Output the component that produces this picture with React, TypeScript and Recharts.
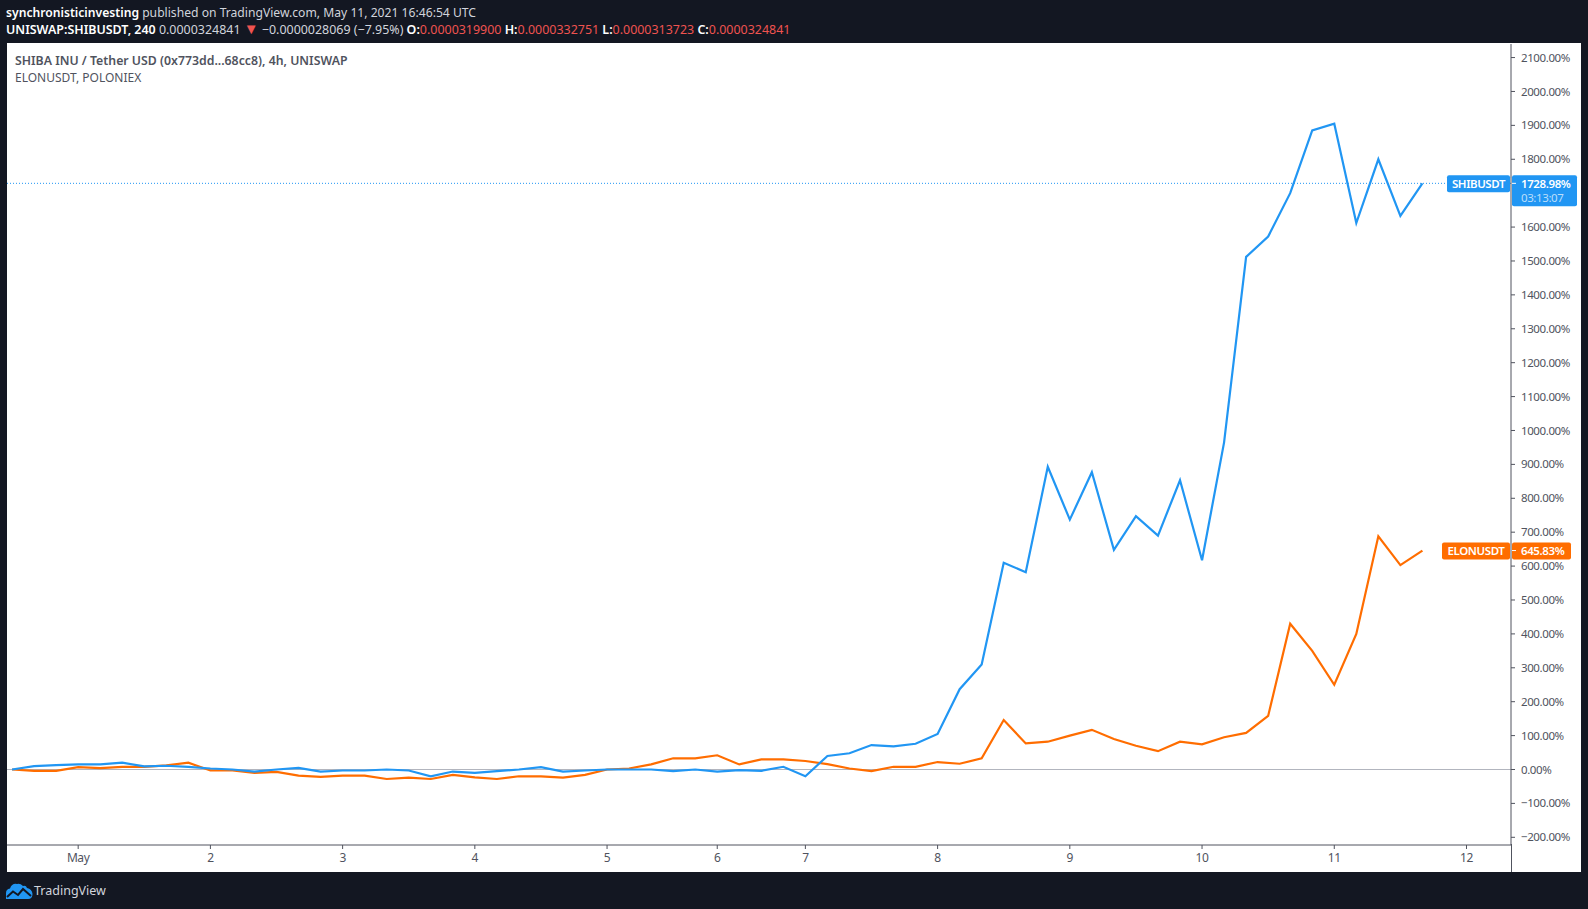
import { LineChart, Line, XAxis, YAxis, ReferenceLine } from "recharts";

const shibValues = [
  0, 10, 13, 15, 15, 20, 9, 11, 8, 3, 0, -6, 0, 5, -6, -3, -3, 0, -3, -20, -6, -10, -5, 0, 7, -6, -3, 0, 0, 0, -5, 0,
  -6, -2, -4, 8, -20, 40, 48, 72, 68, 76, 105, 237, 310, 610, 582, 893, 737, 877, 648, 747, 690, 853, 617, 965, 1512,
  1572, 1700, 1885, 1905, 1612, 1800, 1633, 1728.98,
];
const elonValues = [
  0, -4, -4, 7, 4, 8, 8, 12, 20, -3, -3, -10, -7, -18, -22, -18, -18, -28, -24, -28, -16, -23, -28, -20, -20, -24, -16,
  0, 3, 15, 33, 33, 42, 15, 30, 30, 25, 16, 3, -5, 8, 8, 22, 17, 33, 146, 77, 82, 100, 117, 90, 70, 54, 82, 74, 95, 108,
  158, 430, 350, 250, 400, 688, 603, 645.83,
];
const dayTickIndexes = [3, 9, 15, 21, 27, 32, 36, 42, 48, 54, 60, 66];
const dayTickLabels = ["May", "2", "3", "4", "5", "6", "7", "8", "9", "10", "11", "12"];
// 1700 sits under the SHIBUSDT price tag in the original, so it has no label
const percentTicks = [
  -200, -100, 0, 100, 200, 300, 400, 500, 600, 700, 800, 900, 1000, 1100, 1200, 1300, 1400, 1500, 1600, 1800, 1900,
  2000, 2100,
];

const data = shibValues.map((shib, i) => ({ i, shib, elon: elonValues[i] }));

const BLUE = "#2196f3";
const ORANGE = "#ff6d00";
const DARK = "#131722";
const AXIS = "#50535e";
const RED = "#ef5350";
const FONT = "'Noto Sans', sans-serif";

const formatPercent = (v: number) => `${v < 0 ? "\u2212" : ""}${Math.abs(v).toFixed(2)}%`;

const PriceTag = ({ viewBox, name, value, color, countdown, nameW, valueW }: any) => {
  const y = viewBox.y;
  const right = viewBox.x + viewBox.width;
  return (
    <g fontFamily={FONT} fontSize={11.5} fontWeight={600} letterSpacing={-0.4}>
      <rect x={right - nameW - 1} y={y - 8} width={nameW} height={17} rx={2} fill={color} />
      <text x={right - 1 - nameW / 2} y={y + 4.5} textAnchor="middle" fill="#fff">
        {name}
      </text>
      <rect x={right + 1} y={y - 8} width={valueW} height={countdown ? 31 : 17} rx={2} fill={color} />
      <line x1={right + 1} x2={right + 5} y1={y} y2={y} stroke="#fff" />
      <text x={right + 10} y={y + 4.5} fill="#fff">
        {value}
      </text>
      {countdown && (
        <text x={right + 10} y={y + 19} fill="#bbdefb" fontWeight={400}>
          {countdown}
        </text>
      )}
    </g>
  );
};

const Logo = () => (
  <svg width={27} height={16} viewBox="0 0 27 16" style={{ position: "absolute", left: 6, top: 883 }}>
    <path
      d="M0 16 V10 Q0 6 4 5.5 Q6 0 11 1 Q14 0 17 3 Q20 2 21 5 Q26 6 26.500 11 Q26.500 16 22 16 Z"
      fill={BLUE}
    />
    <path d="M1 14 L7 8.500 L12 12 L17 6 L25 13" fill="none" stroke={DARK} strokeWidth={2} />
  </svg>
);

const strong = { color: "#fff", fontWeight: 600 };
const red = { color: RED };

export default function App() {
  return (
    <div
      style={{
        position: "absolute",
        left: 0,
        top: 0,
        width: 1588,
        height: 909,
        background: DARK,
        overflow: "hidden",
        fontFamily: FONT,
        fontSize: 12,
        whiteSpace: "nowrap",
      }}
    >
      <div style={{ position: "absolute", left: 6, top: 4, color: "#d1d4dc", fontSize: 12.15 }}>
        <b style={strong}>synchronisticinvesting</b> published on TradingView.com, May 11, 2021 16:46:54 UTC
      </div>
      <div style={{ position: "absolute", left: 6, top: 21, color: "#d1d4dc", fontSize: 12.45 }}>
        <b style={strong}>UNISWAP:SHIBUSDT, 240</b> 0.0000324841{" "}
        <span style={{ ...red, fontSize: 15, lineHeight: "12px" }}>▼</span> −0.0000028069 (−7.95%){" "}
        <b style={strong}>O:</b>
        <span style={red}>0.0000319900</span> <b style={strong}>H:</b>
        <span style={red}>0.0000332751</span> <b style={strong}>L:</b>
        <span style={red}>0.0000313723</span> <b style={strong}>C:</b>
        <span style={red}>0.0000324841</span>
      </div>

      <div style={{ position: "absolute", left: 7, top: 43, width: 1574, height: 829, background: "#fff" }} />

      <div style={{ position: "absolute", left: 0, top: 0 }}>
        <LineChart
          width={1588}
          height={909}
          data={data}
          margin={{ top: 44, right: 7, bottom: 36, left: 7 }}
        >
          <XAxis
            dataKey="i"
            type="number"
            domain={[-0.23, 68.02]}
            allowDataOverflow
            ticks={dayTickIndexes}
            tickFormatter={(v: number) => dayTickLabels[dayTickIndexes.indexOf(v)]}
            interval={0}
            height={28}
            stroke={AXIS}
            tickSize={4}
            tickMargin={4}
            tick={{ fill: "#50535e", fontSize: 12, fontFamily: FONT, letterSpacing: -0.4 }}
          />
          <YAxis
            orientation="right"
            type="number"
            domain={[-222.7, 2140]}
            allowDataOverflow
            ticks={percentTicks}
            tickFormatter={formatPercent}
            interval={0}
            width={70}
            stroke={AXIS}
            tickSize={4}
            tickMargin={6}
            tick={{ fill: "#50535e", fontSize: 11.5, fontFamily: FONT, letterSpacing: -0.4 }}
          />
          <ReferenceLine y={0} stroke="#b2b5be" />
          <Line
            type="linear"
            dataKey="elon"
            stroke={ORANGE}
            strokeWidth={2.2}
            dot={false}
            isAnimationActive={false}
          />
          <Line
            type="linear"
            dataKey="shib"
            stroke={BLUE}
            strokeWidth={2.2}
            dot={false}
            isAnimationActive={false}
          />
          <ReferenceLine
            y={shibValues[shibValues.length - 1]}
            stroke={BLUE}
            strokeDasharray="1 2"
            label={(p: any) => (
              <PriceTag
                {...p}
                name="SHIBUSDT"
                value={formatPercent(shibValues[shibValues.length - 1])}
                color={BLUE}
                countdown="03:13:07"
                nameW={63}
                valueW={65}
              />
            )}
          />
          <ReferenceLine
            y={elonValues[elonValues.length - 1]}
            stroke="none"
            label={(p: any) => (
              <PriceTag
                {...p}
                name="ELONUSDT"
                value={formatPercent(elonValues[elonValues.length - 1])}
                color={ORANGE}
                nameW={68}
                valueW={59}
              />
            )}
          />
        </LineChart>
      </div>

      <div style={{ position: "absolute", left: 1511, top: 844, width: 1, height: 28, background: AXIS }} />

      <div style={{ position: "absolute", left: 15, top: 52, color: "#50535e", fontWeight: 600, fontSize: 12.3 }}>
        SHIBA INU / Tether USD (0x773dd...68cc8), 4h, UNISWAP
      </div>
      <div style={{ position: "absolute", left: 15, top: 69, color: "#50535e" }}>ELONUSDT, POLONIEX</div>

      <Logo />
      <div style={{ position: "absolute", left: 34, top: 882, color: "#d1d4dc", fontSize: 12.5 }}>TradingView</div>
    </div>
  );
}
